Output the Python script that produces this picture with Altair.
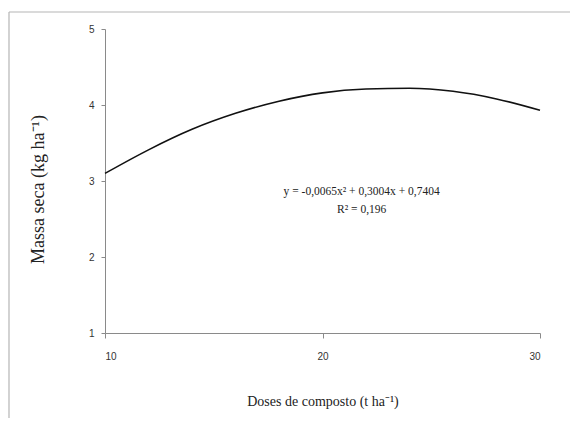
import altair as alt
import pandas as pd

# Curve
dose = [10, 12, 14, 16, 18, 20, 22, 24, 26, 28, 30]
massa = [3.10, 3.41, 3.68, 3.89, 4.05, 4.16, 4.21, 4.22, 4.18, 4.08, 3.93]

x_ticks = [10, 20, 30]
y_ticks = [1, 2, 3, 4, 5]

ann_text = ["y = -0,0065x\u00b2 + 0,3004x + 0,7404", "R\u00b2 = 0,196"]
ann_x = [21.8, 21.8]
ann_y = [2.86, 2.62]

df = pd.DataFrame({"dose": dose, "massa": massa})
ann = pd.DataFrame({"t": ann_text, "x": ann_x, "y": ann_y})

xscale = alt.Scale(domain=[10, 30], nice=False, zero=False)
yscale = alt.Scale(domain=[1, 5], nice=False, zero=False)

one = pd.DataFrame({"a": [0]})
border_top = alt.Chart(one).mark_rule(color="#b5b5b5", strokeWidth=1.2).encode(
    x=alt.value(-96), x2=alt.value(465), y=alt.value(-17)
)
border_left = alt.Chart(one).mark_rule(color="#b5b5b5", strokeWidth=1.2).encode(
    x=alt.value(-96), y=alt.value(-17), y2=alt.value(400)
)

line = alt.Chart(df).mark_line(
    interpolate="monotone", color="#111111", strokeWidth=1.6
).encode(
    x=alt.X("dose:Q", scale=xscale,
            axis=alt.Axis(values=x_ticks, grid=False, title="Doses de composto (t ha\u207b\u00b9)",
                          domainColor="#8a8a8a", tickColor="#8a8a8a", tickSize=5,
                          labelFont="Liberation Sans", labelFontSize=10, labelColor="#333333",
                          labelPadding=13, format="d",
                          titleFont="Liberation Serif", titleFontSize=14, titleFontWeight="normal",
                          titleColor="#222222", titleY=68, titleBaseline="middle")),
    y=alt.Y("massa:Q", scale=yscale,
            axis=alt.Axis(values=y_ticks, grid=False, title="Massa seca (kg ha\u207b\u00b9)",
                          domainColor="#8a8a8a", tickColor="#8a8a8a", tickSize=4,
                          labelFont="Liberation Sans", labelFontSize=10, labelColor="#333333",
                          labelPadding=7, format="d",
                          titleFont="Liberation Serif", titleFontSize=18, titleFontWeight="normal",
                          titleColor="#222222", titleX=-67, titleY=160, titleBaseline="middle")),
)

text = alt.Chart(ann).mark_text(
    font="Liberation Serif", fontSize=11.5, color="#222222", align="center", baseline="middle"
).encode(
    x=alt.X("x:Q", scale=xscale),
    y=alt.Y("y:Q", scale=yscale),
    text="t:N",
)

chart = alt.layer(border_top, border_left, line, text).properties(
    width=435, height=304,
    autosize=alt.AutoSizeParams(type="none"),
    padding={"left": 97, "top": 21, "right": 30, "bottom": 85},
).configure_view(stroke=None)

chart.save("out.html", embed_options={"renderer": "svg", "actions": False})
